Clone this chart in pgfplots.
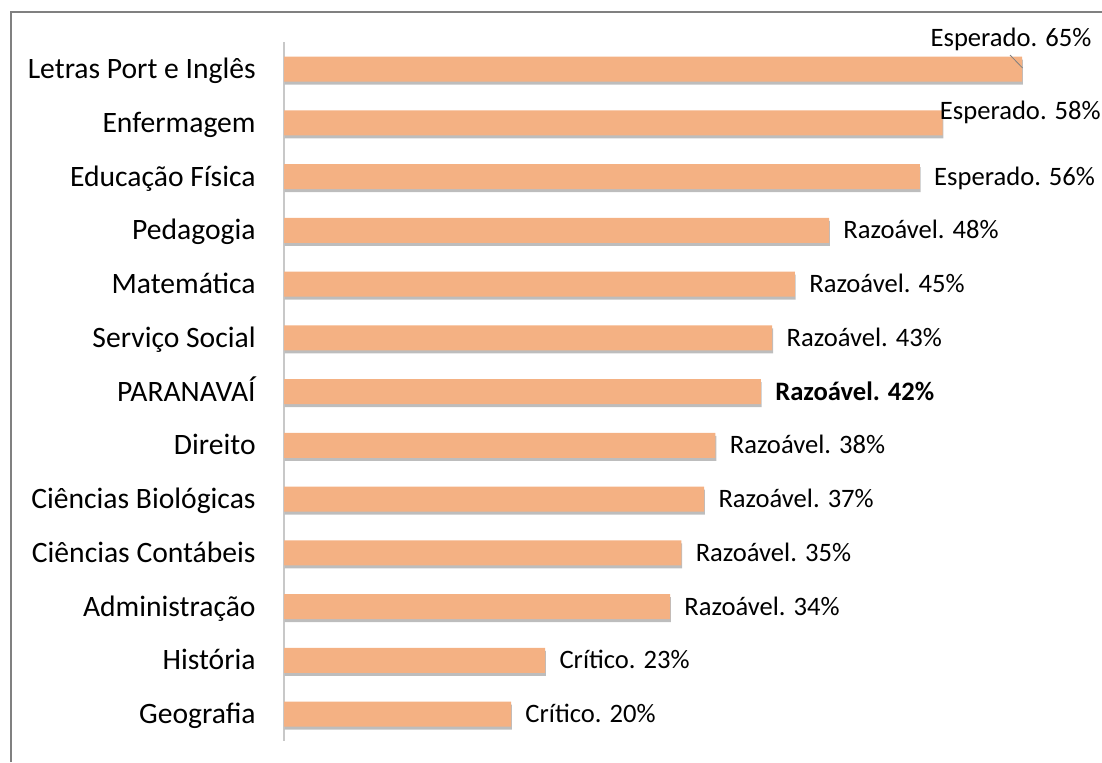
\documentclass[border=0pt]{standalone}
\usepackage{pgfplots}
\pgfplotsset{compat=1.18}
\usepackage{fontspec}
\setmainfont{Carlito}
\usetikzlibrary{shadows}
\definecolor{barfill}{HTML}{F4B183}
\definecolor{framegray}{HTML}{808080}
\definecolor{axline}{HTML}{C8C8C8}

\begin{document}
\begin{tikzpicture}[
  lbl/.style={font=\fontsize{13.3}{15}\selectfont, black, inner sep=0pt, text height=11.6pt, text depth=3pt}]
\path[use as bounding box] (0,0) rectangle (551pt,381pt);
\draw[framegray, line width=0.9pt] (5.5pt,0) -- (5.5pt,375pt) -- (551pt,375pt);
\begin{axis}[
  at={(142pt,10.55pt)}, anchor=south west,
  x=5.677pt, y=26.875pt, y dir=reverse,
  xmin=0, xmax=65, ymin=-0.5, ymax=12.5,
  axis x line=none, axis y line*=left,
  y axis line style={axline, line width=0.6pt, -},
  ytick={0,...,12},
  yticklabels={Letras Port e Inglês, Enfermagem, Educação Física, Pedagogia, Matemática,
    Serviço Social, PARANAVAÍ, Direito, Ciências Biológicas, Ciências Contábeis,
    Administração, História, Geografia},
  major tick length=0pt,
  yticklabel style={font=\fontsize{14.8}{17}\selectfont, inner sep=0pt,
    text height=12.6pt, text depth=3pt, anchor=east, xshift=-14pt},
  xbar, bar width=12.5pt,
  clip=false,
  point meta=explicit symbolic,
  nodes near coords,
  nodes near coords style={lbl, anchor=west, xshift=7pt},
]
\addplot[fill=barfill, draw=none,
  drop shadow={shadow xshift=0.4pt, shadow yshift=-1.5pt, opacity=0.32, fill=black!80}]
  coordinates {
  (65,0) [{}]
  (58,1) [{}]
  (56,2) [Esperado. 56\%]
  (48,3) [Razoável. 48\%]
  (45,4) [Razoável. 45\%]
  (43,5) [Razoável. 43\%]
  (42,6) [\textbf{Razoável. 42\%}]
  (38,7) [Razoável. 38\%]
  (37,8) [Razoável. 37\%]
  (35,9) [Razoável. 35\%]
  (34,10) [Razoável. 34\%]
  (23,11) [Crítico. 23\%]
  (20,12) [Crítico. 20\%]
};
% labels moved by hand in the original
\node[lbl] at (axis cs:65,0) [xshift=-5.5pt, yshift=15.5pt] {Esperado. 65\%};
\draw[gray] (axis cs:65,0) ++(-6pt,7pt) -- ++(6.3pt,-6.5pt);
\node[lbl, anchor=west] at (axis cs:58,1) [xshift=-1.5pt, yshift=6pt] {Esperado. 58\%};
\end{axis}
\end{tikzpicture}
\end{document}
